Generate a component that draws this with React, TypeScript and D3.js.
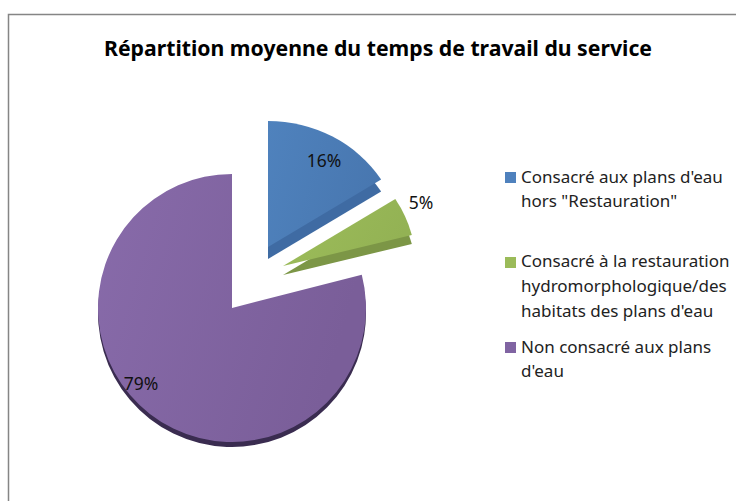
import React from "react";
import * as d3 from "d3";

const chartTitle = "Répartition moyenne du temps de travail du service";
const categories = ["Consacré aux plans d'eau hors \"Restauration\"", "Consacré à la restauration hydromorphologique/des habitats des plans d'eau", "Non consacré aux plans d'eau"];
const values = [16, 5, 79];
const valueLabels = ["16%", "5%", "79%"];
const legendLines = [
  ["Consacré aux plans d'eau", "hors \"Restauration\""],
  ["Consacré à la restauration", "hydromorphologique/des", "habitats des plans d'eau"],
  ["Non consacré aux plans", "d'eau"],
];
const swatches = ["#4f81bd", "#9bbb59", "#8064a2"];
const sides = ["#3f6ba3", "#7c9646", "#3a2c50"];
const gradStart = ["#4f82bd", "#9dbd5a", "#886baa"];
const gradEnd = ["#4877b0", "#93b254", "#7a5e99"];

// layout per slice: face centre, side centre, radii
const faceCx = [268, 283, 232];
const faceCy = [247, 266, 308];
const sideCy = [259, 275, 313];
const radius = [134, 133, 134];
const yScale = [0.94, 0.94, 1];
const labelPos: [number, number][] = [[324, 167], [421, 209], [141, 390]];
const legendY = [[183, 207], [267, 292, 317], [353, 377]];
const swatchY = [172, 257, 342];

const FONT = "'Noto Sans', sans-serif";

export default function App() {
  const arcs = d3.pie<number>().sort(null)(values);
  return (
    <svg width={736} height={501} style={{ position: "absolute", left: 0, top: 0, background: "#fff" }}>
      <defs>
        {values.map((_, i) => (
          <linearGradient key={i} id={`g${i}`} x1="0" y1="0" x2="1" y2="0.3">
            <stop offset="0" stopColor={gradStart[i]} />
            <stop offset="1" stopColor={gradEnd[i]} />
          </linearGradient>
        ))}
      </defs>
      <path d="M8.5,501V14.5H736" fill="none" stroke="#858585" strokeWidth={1.5} />
      <text x={378} y={56} textAnchor="middle" fontFamily={FONT} fontWeight={700} fontSize={20.5} textLength={548} lengthAdjust="spacingAndGlyphs" fill="#000">{chartTitle}</text>
      {arcs.map((a, i) => {
        const path = d3.arc<any>().innerRadius(0).outerRadius(radius[i])(a) as string;
        return (
          <g key={i}>
            <title>{categories[i]}</title>
            <path d={path} transform={`translate(${faceCx[i]},${sideCy[i]}) scale(1,${yScale[i]})`} fill={sides[i]} />
            <path d={path} transform={`translate(${faceCx[i]},${faceCy[i]}) scale(1,${yScale[i]})`} fill={`url(#g${i})`} />
          </g>
        );
      })}
      {valueLabels.map((t, i) => (
        <text key={t} x={labelPos[i][0]} y={labelPos[i][1]} textAnchor="middle" fontFamily={FONT} fontSize={17.5} fill="#111">{t}</text>
      ))}
      {legendLines.map((lines, i) => (
        <g key={i}>
          <rect x={505} y={swatchY[i]} width={11} height={11} fill={swatches[i]} />
          {lines.map((l, j) => (
            <text key={j} x={521} y={legendY[i][j]} fontFamily={FONT} fontSize={17} fill="#222">{l}</text>
          ))}
        </g>
      ))}
    </svg>
  );
}
